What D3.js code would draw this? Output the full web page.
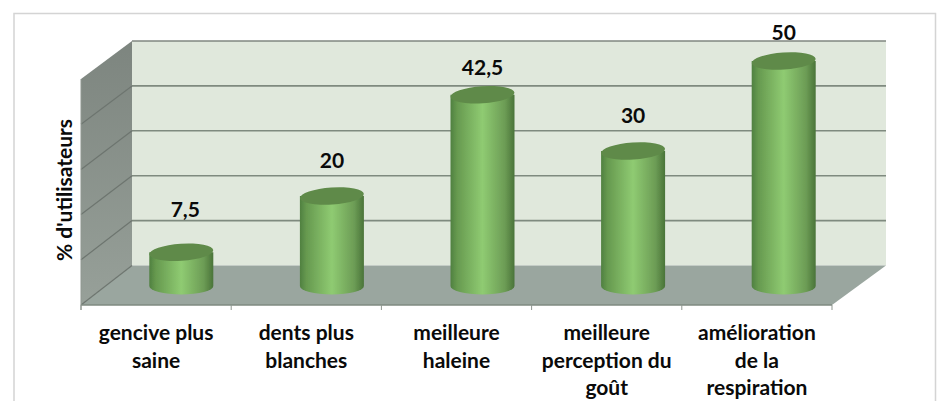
<!DOCTYPE html>
<html><head><meta charset="utf-8">
<style>html,body{margin:0;padding:0;background:#fff;overflow:hidden}svg{display:block}text{font-family:Lato,"Open Sans",sans-serif;font-weight:700;fill:#0a0a0a}</style>
<script src="https://cdn.jsdelivr.net/npm/d3@7"></script></head><body>
<script>
const categories = [["gencive plus","saine"],["dents plus","blanches"],["meilleure","haleine"],["meilleure","perception du","goût"],["amélioration","de la","respiration"]];
const values = [7.5,20,42.5,30,50];
const valueLabels = ["7,5","20","42,5","30","50"];
const yTicks = [0,10,20,30,40,50];
const yTitle = "% d'utilisateurs";

const W=945,H=401;
const svg=d3.select("body").append("svg").attr("width",W).attr("height",H);
const idx=d3.range(categories.length);
const xFront=d3.scaleBand().domain(idx).range([81,832]);
const xBar=d3.scaleBand().domain(idx).range([106,859]);
const yBack=d3.scaleLinear().domain([0,50]).range([265.5,41]);
const yFront=d3.scaleLinear().domain([0,50]).range([305,79]);
const yBar=d3.scaleLinear().domain([0,50]).range([286,61]);
const L=132,R=886,FL=81,FR=832;

const defs=svg.append("defs");
const grad=defs.append("linearGradient").attr("id","cyl");
[[0,"#4f8040"],[.1,"#66994f"],[.5,"#8fcb72"],[.85,"#6c9c55"],[1,"#4a7439"]].forEach(s=>grad.append("stop").attr("offset",s[0]).attr("stop-color",s[1]));
const wallG=defs.append("linearGradient").attr("id","lw").attr("x2",0).attr("y2",1);
wallG.append("stop").attr("offset",0).attr("stop-color","#7d857f");
wallG.append("stop").attr("offset",1).attr("stop-color","#97a099");
defs.append("filter").attr("id","soft").append("feGaussianBlur").attr("stdDeviation",0.5);

// frame
svg.append("path").attr("d",`M14,401V13.5H935.5V401`).attr("fill","none").attr("stroke","#d4d4d4").attr("stroke-width",1.5);

const g=svg.append("g").attr("filter","url(#soft)");
g.append("rect").attr("x",L).attr("y",yBack(50)).attr("width",R-L).attr("height",yBack(0)-yBack(50)).attr("fill","#e0e8dc");
g.append("path").attr("fill","url(#lw)").attr("d",`M${FL},${yFront(50)}L${L},${yBack(50)}V${yBack(0)}L${FL},${yFront(0)}Z`);
g.append("path").attr("fill","#9aa69f").attr("d",`M${FL},${yFront(0)}L${L},${yBack(0)}H${R}L${FR},${yFront(0)}Z`);

g.selectAll("line.grid").data(yTicks).join("line").attr("class","grid")
 .attr("x1",L).attr("x2",R).attr("y1",yBack).attr("y2",yBack).attr("stroke",d=>d==50?"#808780":"#7f8a7f").attr("stroke-width",d=>d==0?0:1.6);
g.selectAll("line.side").data(yTicks.filter(d=>d<50)).join("line").attr("class","side")
 .attr("x1",FL).attr("x2",L).attr("y1",yFront).attr("y2",yBack).attr("stroke","#6d756f").attr("stroke-width",1.2);

g.append("line").attr("x1",FL).attr("x2",FR).attr("y1",yFront(0)).attr("y2",yFront(0)).attr("stroke","#7e8a80").attr("stroke-width",1.6);
g.append("line").attr("x1",FL).attr("x2",FL).attr("y1",yFront(50)).attr("y2",yFront(0)+5).attr("stroke","#8f9790").attr("stroke-width",1);
g.selectAll("line.tick").data([...idx,idx.length]).join("line").attr("class","tick")
 .attr("x1",i=>FL+i*xFront.step()).attr("x2",i=>FL+i*xFront.step()).attr("y1",yFront(0)).attr("y2",yFront(0)+5).attr("stroke","#8f9790").attr("stroke-width",1);

// cylinders
const rx=32,ry=8.5;
const bars=g.selectAll("g.bar").data(idx).join("g").attr("class","bar");
const cx=i=>xBar(i)+xBar.bandwidth()/2;
bars.append("path").attr("fill","url(#cyl)").attr("d",i=>{
  const t=yBar(values[i]),b=yBar(0);
  return `M${cx(i)-rx},${t}V${b}A${rx},${ry} 0 0 0 ${cx(i)+rx},${b}V${t}Z`;
});
bars.append("ellipse").attr("cx",cx).attr("cy",i=>yBar(values[i])).attr("rx",rx).attr("ry",ry)
 .attr("fill","#5f8a49").attr("transform",i=>`rotate(-4 ${cx(i)} ${yBar(values[i])})`);

// value labels
const labelLift=[35,28,20,28,21];
svg.selectAll("text.val").data(idx).join("text").attr("class","val")
 .attr("x",i=>cx(i)+(i==0?4:0)).attr("y",i=>yBar(values[i])-labelLift[i]).attr("text-anchor","middle")
 .style("font-size","21px").text(i=>valueLabels[i]);

// category labels
const cat=svg.selectAll("text.cat").data(idx).join("text").attr("class","cat")
 .attr("text-anchor","middle").style("font-size","21px");
cat.selectAll("tspan").data(i=>categories[i].map(t=>({t,i}))).join("tspan")
 .attr("x",d=>xFront(d.i)+xFront.bandwidth()/2).attr("y",(d,j)=>340+j*27.7).text(d=>d.t);

svg.append("text").attr("transform","translate(72,190) rotate(-90)").attr("text-anchor","middle")
 .style("font-size","21px").text(yTitle);
</script></body></html>
